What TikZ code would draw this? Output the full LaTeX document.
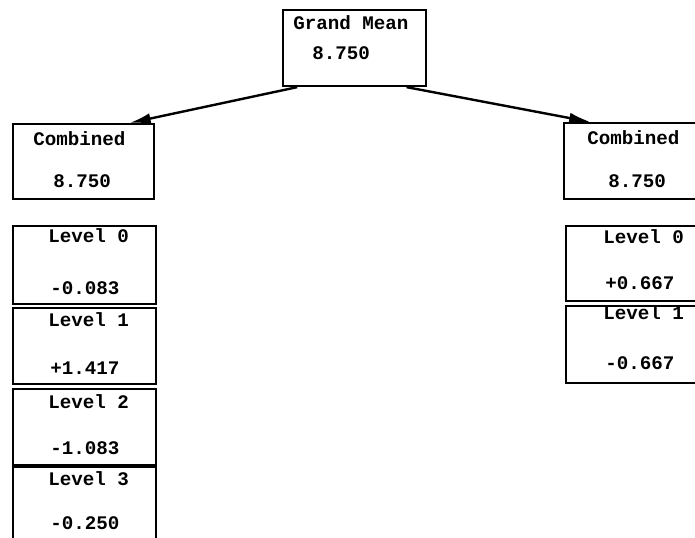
\documentclass[tikz,border=0pt]{standalone}
\usepackage{fontspec}
\setmonofont{Liberation Mono}
\usetikzlibrary{arrows.meta, positioning, calc}

\begin{document}
\begin{tikzpicture}[
    x=0.75pt, y=-0.75pt,
    box/.style={draw, line width=1.6pt, anchor=north west, inner sep=0pt,
                minimum width=107pt},
    lbl/.style={anchor=west, inner sep=0pt,
                font=\fontsize{14.4}{16}\selectfont\ttfamily\bfseries},
    link/.style={line width=1.8pt, -{Latex[length=16pt, width=8pt]}}
  ]
  \useasboundingbox (0,0) rectangle (695,537);
  \clip (0,0) rectangle (695,537);

  % Grand mean
  \node[box, minimum height=57pt] (gm) at (282,9) {};
  \node[lbl] (gmT) at (293,23) {Grand Mean};
  \node[lbl] (gmV) at (312,53) {8.750};

  % left factor
  \node[box, minimum width=105.75pt, minimum height=56.25pt] (cl) at (12,123) {};
  \node[lbl] (clT) at (33,139) {Combined};
  \node[lbl] (clV) at (53,181) {8.750};
  \foreach \val/\top/\h/\ly/\vy [count=\i from 0] in
      {-0.083/225/58.5/236/288, +1.417/307/57/320/368,
       -1.083/388/57/402/448, -0.250/466/60/479/523} {
    \node[box, minimum height=\h pt] (l\i) at (12,\top) {};
    \node[lbl] (l\i T) at (48,\ly) {Level \i};
    \node[lbl] (l\i V) at (50,\vy) {\val};
  }

  % right factor
  \node[box, minimum height=57pt] (cr) at (563,122) {};
  \node[lbl] (crT) at (587,138) {Combined};
  \node[lbl] (crV) at (608,181) {8.750};
  \foreach \val/\top/\h/\ly/\vy [count=\i from 0] in
      {+0.667/225/56.25/237/283, -0.667/305/57.75/313/363} {
    \node[box, minimum height=\h pt] (r\i) at (565,\top) {};
    \node[lbl] (r\i T) at (603,\ly) {Level \i};
    \node[lbl] (r\i V) at (605,\vy) {\val};
  }

  % arrows
  \draw[link] ($(gm.south west)!0.105!(gm.south east)$)
    -- ($(cl.north west)!0.82!(cl.north east)$);
  \draw[link] ($(gm.south west)!0.86!(gm.south east)$)
    -- ($(cr.north west)!0.19!(cr.north east)$);
\end{tikzpicture}
\end{document}
